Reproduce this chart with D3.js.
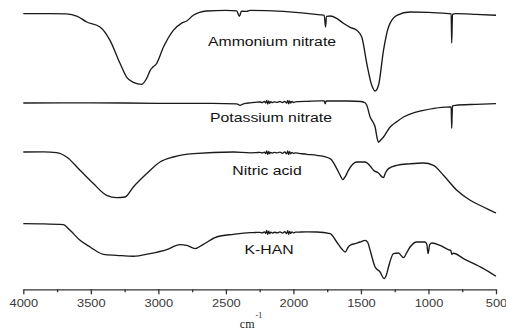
<!DOCTYPE html>
<html>
<head>
<meta charset="utf-8">
<script src="https://cdn.jsdelivr.net/npm/d3@7"></script>
<style>
  body { margin: 0; background: #fff; }
  svg { display: block; }
</style>
</head>
<body>
<script>
const width = 506;
const height = 335;

// wavenumber (cm-1) vs offset transmittance (arbitrary units, stacked)
const ammoniumNitrate = [
    [4000, 275.7], [3800, 275.7], [3681, 275.5], [3600, 273], [3530, 267.3], [3432, 262.3],
    [3358, 249], [3284, 226], [3234, 212], [3185, 207], [3123, 205], [3086, 211],
    [3060, 219], [3049, 221], [3012, 226], [2963, 242], [2889, 259], [2830, 266],
    [2790, 268.3], [2741, 274], [2642, 278.3], [2500, 279], [2420, 278.5], [2400, 273],
    [2385, 278], [2346, 278], [2321, 279], [2074, 278], [1800, 274.5], [1772, 274],
    [1762, 262.3], [1755, 273], [1728, 273.3], [1680, 271], [1630, 266], [1580, 262],
    [1531, 259], [1494, 252.3], [1457, 226], [1420, 204], [1395, 198.3], [1370, 204],
    [1333, 239], [1296, 262.3], [1234, 274], [1136, 277.3], [1000, 277], [850, 275.7],
    [832, 275.5], [828, 246.3], [825, 262], [822, 275], [802, 275.7], [650, 275], [500, 274]
];

const potassiumNitrate = [
    [4000, 186.3], [3500, 186.5], [3000, 186], [2600, 186], [2420, 185.5], [2395, 184],
    [2370, 185.5], [2321, 186.5], [2280, 187], [2250, 187.3], [2230, 186.8], [2215, 187.8],
    [2205, 186.3], [2198, 189], [2190, 185.2], [2183, 188.5], [2176, 186], [2168, 187.6],
    [2155, 186.7], [2140, 187.5], [2120, 187], [2100, 187.8], [2080, 186.8], [2065, 188],
    [2050, 186.2], [2042, 189], [2035, 185.5], [2028, 188.3], [2020, 186.3], [2010, 188],
    [2000, 186.8], [1985, 187.5], [1960, 187.7], [1900, 188], [1800, 188.5],
    [1772, 188.5], [1765, 185.5], [1758, 188.5], [1600, 188.3], [1500, 187.8], [1470, 186.5],
    [1457, 184], [1432, 172.3], [1410, 167], [1395, 162.3], [1380, 151], [1370, 147],
    [1355, 149], [1333, 152.3], [1284, 162.3], [1230, 168], [1185, 172.3], [1100, 177],
    [1037, 179], [900, 182], [840, 182.3], [832, 182.5], [828, 161], [825, 174],
    [822, 183.5], [802, 184], [650, 185], [500, 185.7]
];

const nitricAcid = [
    [4000, 137.3], [3850, 137.5], [3753, 136.7], [3679, 132.3], [3580, 119], [3481, 105.7],
    [3383, 94], [3309, 91.7], [3247, 92.3], [3185, 102.3], [3086, 115.7], [2988, 127.3],
    [2889, 132.3], [2741, 135.7], [2444, 137.3], [2321, 136.5], [2280, 136.6], [2250, 137],
    [2230, 136.3], [2215, 137.2], [2205, 135.8], [2198, 138.5], [2190, 134.8], [2183, 138],
    [2176, 135.6], [2168, 137], [2155, 136.2], [2140, 137], [2120, 136.4], [2100, 137.2],
    [2080, 136], [2065, 137.4], [2050, 135.5], [2042, 138.3], [2035, 134.8], [2028, 137.6],
    [2020, 135.6], [2010, 137], [2000, 135.9], [1985, 136.4], [1960, 136], [1900, 135],
    [1827, 134], [1728, 130.7], [1679, 120.7], [1650, 113], [1635, 109.7], [1615, 113],
    [1593, 119], [1531, 127.3], [1469, 127.3], [1430, 123], [1407, 119], [1370, 116.3],
    [1345, 112.5], [1333, 111.7], [1320, 116], [1296, 120.7], [1234, 124], [1137, 125.5],
    [1037, 126.3], [963, 124], [889, 114], [790, 99], [691, 89], [593, 82.3], [550, 79.5],
    [500, 76.3]
];

const kHAN = [
    [4000, 65.7], [3850, 65.5], [3704, 64.7], [3654, 59], [3580, 49], [3506, 42.3],
    [3407, 35], [3309, 34], [3185, 33], [3062, 35.7], [2938, 39.7], [2840, 44.7],
    [2790, 44], [2728, 40.7], [2667, 45], [2568, 52.3], [2444, 55], [2321, 56.7],
    [2280, 56.8], [2250, 57], [2230, 56.4], [2215, 57.4], [2205, 55.9], [2198, 58.8],
    [2190, 54.9], [2183, 58.2], [2176, 55.7], [2168, 57.2], [2155, 56.2], [2140, 57.1],
    [2120, 56.5], [2100, 57.4], [2080, 56.2], [2065, 57.6], [2050, 55.7], [2042, 58.6],
    [2035, 55], [2028, 57.9], [2020, 55.9], [2010, 57.5], [2000, 56.4], [1985, 57.1],
    [1960, 57.2], [1900, 57.4], [1827, 57.3], [1728, 55.7], [1679, 47.3], [1640, 40],
    [1617, 37.3], [1595, 42], [1580, 44], [1543, 45.7], [1506, 47.3], [1469, 49],
    [1450, 47], [1432, 39], [1395, 22.3], [1358, 17.3], [1328, 10.7], [1310, 15],
    [1296, 22.3], [1259, 35.7], [1222, 36.3], [1185, 31.7], [1160, 37], [1136, 42.3],
    [1086, 47.3], [1025, 47.3], [1012, 45], [1003, 35.7], [990, 45], [975, 46.3],
    [914, 44], [850, 39.5], [835, 39], [827, 35], [815, 36], [741, 30.7], [593, 20.7],
    [500, 13]
];

const seriesNames = ['Ammonium nitrate', 'Potassium nitrate', 'Nitric acid', 'K-HAN'];
const seriesValues = [ammoniumNitrate, potassiumNitrate, nitricAcid, kHAN];
const majorTicks = [4000, 3500, 3000, 2500, 2000, 1500, 1000, 500];
const minorTicks = [3750, 3250, 2750, 2250, 1750, 1250, 750];

// label placement (pixel centre x, baseline y)
const labelPos = [[272, 46], [271, 122], [267, 175], [269, 254]];

const x = d3.scaleLinear().domain([4000, 500]).range([23.3, 496]);
const y = d3.scaleLinear().domain([0, 280]).range([289.3, 9.3]);
const axisY = 289.3;
const stretch = 1.17;

const svg = d3
    .select('body')
    .append('svg')
    .attr('width', width)
    .attr('height', height);

const line = d3
    .line()
    .x(d => x(d[0]))
    .y(d => y(d[1]))
    .curve(d3.curveMonotoneX);

// Spectra
svg
    .selectAll('path.spectrum')
    .data(seriesValues)
    .enter()
    .append('path')
    .classed('spectrum', true)
    .attr('d', d => line(d.slice().sort((a, b) => b[0] - a[0])))
    .attr('fill', 'none')
    .attr('stroke', '#1a1a1a')
    .attr('stroke-width', 1.35)
    .attr('stroke-linejoin', 'round');

// Labels
svg
    .selectAll('text.name')
    .data(seriesNames)
    .enter()
    .append('text')
    .classed('name', true)
    .attr('transform', (d, i) => `translate(${labelPos[i][0]}, ${labelPos[i][1]}) scale(${stretch}, 1)`)
    .attr('text-anchor', 'middle')
    .style('font-family', '"Liberation Sans", Arial, sans-serif')
    .style('font-size', '13.5px')
    .style('fill', '#111')
    .text(d => d);

// Minor ticks
svg
    .append('g')
    .attr('transform', `translate(0, ${axisY})`)
    .call(d3.axisBottom(x).tickValues(minorTicks).tickSize(3).tickFormat('').tickSizeOuter(0))
    .call(g => g.select('.domain').remove())
    .selectAll('line')
    .attr('stroke', '#333')
    .attr('stroke-width', 1.3);

// Major axis
const xAxis = svg
    .append('g')
    .attr('transform', `translate(0, ${axisY})`)
    .call(d3.axisBottom(x).tickValues(majorTicks).tickSize(5).tickSizeOuter(0).tickFormat(d3.format('d')));

xAxis.select('.domain').attr('stroke', '#333').attr('stroke-width', 1.3);
xAxis.selectAll('.tick line').attr('stroke', '#333').attr('stroke-width', 1.3);
xAxis
    .selectAll('.tick text')
    .attr('y', 10)
    .attr('dy', '0.71em')
    .attr('transform', `scale(${stretch}, 1)`)
    .style('font-family', '"Liberation Sans", Arial, sans-serif')
    .style('font-size', '11px')
    .style('fill', '#3a3a3a');

// Axis title
const title = svg
    .append('text')
    .attr('x', 251)
    .attr('y', 328)
    .attr('text-anchor', 'middle')
    .style('font-family', '"Liberation Serif", "Times New Roman", serif')
    .style('font-size', '12px')
    .style('fill', '#222');
title.append('tspan').text('cm');
title
    .append('tspan')
    .attr('dx', 1)
    .attr('dy', -10)
    .style('font-size', '8px')
    .text('-1');
</script>
</body>
</html>
